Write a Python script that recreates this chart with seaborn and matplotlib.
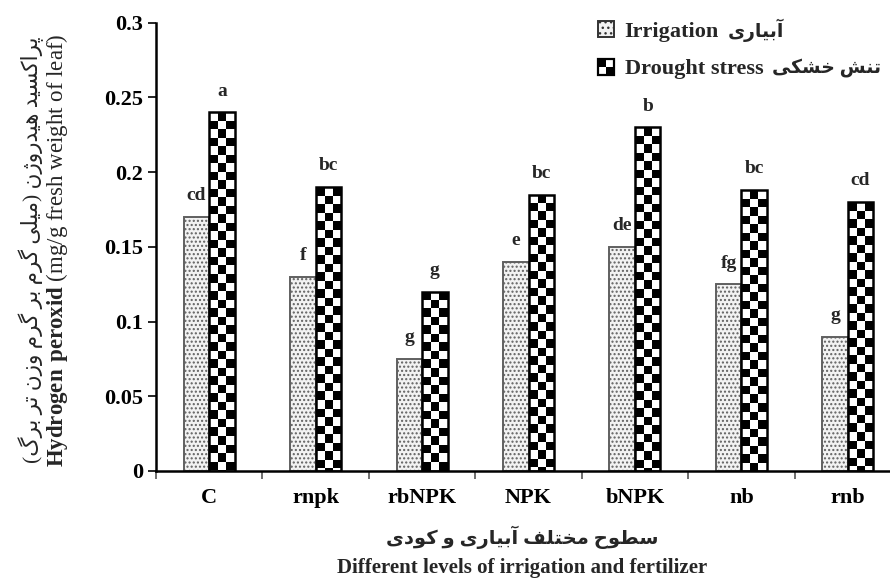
import numpy as np
import pandas as pd
import matplotlib
matplotlib.use("Agg")
import matplotlib.pyplot as plt
import seaborn as sns
from matplotlib.patches import Patch, Rectangle
from matplotlib.legend_handler import HandlerBase
from matplotlib.colors import ListedColormap

# ---- data -------------------------------------------------------------
categories = ["C", "rnpk", "rbNPK", "NPK", "bNPK", "nb", "rnb"]
irrigation = [0.17, 0.13, 0.075, 0.14, 0.15, 0.125, 0.09]
drought = [0.24, 0.19, 0.12, 0.185, 0.23, 0.188, 0.18]
irrigation_letters = ["cd", "f", "g", "e", "de", "fg", "g"]
drought_letters = ["a", "bc", "g", "bc", "b", "bc", "cd"]
ytick_values = [0, 0.05, 0.1, 0.15, 0.2, 0.25, 0.3]
ytick_labels = ["0", "0.05", "0.1", "0.15", "0.2", "0.25", "0.3"]
series_names = ["Irrigation", "Drought stress"]
series_names_fa = ["آبیاری", "تنش خشکی"]

ylabel_fa = "پراکسید هیدروژن (میلی گرم بر گرم وزن تر برگ)"
ylabel_en = r"$\mathbf{Hydrogen\ peroxid}$ (mg/g fresh weight of leaf)"
xlabel_fa = "سطوح مختلف آبیاری و کودی"
xlabel_en = "Different levels of irrigation and fertilizer"

# ---- minimal Persian shaping (matplotlib has no complex text layout) ----
_FORMS = {
    "ا": (0xFE8D, 0xFE8E, None, None), "آ": (0xFE81, 0xFE82, None, None),
    "ب": (0xFE8F, 0xFE90, 0xFE91, 0xFE92), "پ": (0xFB56, 0xFB57, 0xFB58, 0xFB59),
    "ت": (0xFE95, 0xFE96, 0xFE97, 0xFE98), "ح": (0xFEA1, 0xFEA2, 0xFEA3, 0xFEA4),
    "خ": (0xFEA5, 0xFEA6, 0xFEA7, 0xFEA8), "د": (0xFEA9, 0xFEAA, None, None),
    "ر": (0xFEAD, 0xFEAE, None, None), "ز": (0xFEAF, 0xFEB0, None, None),
    "ژ": (0xFB8A, 0xFB8B, None, None), "س": (0xFEB1, 0xFEB2, 0xFEB3, 0xFEB4),
    "ش": (0xFEB5, 0xFEB6, 0xFEB7, 0xFEB8), "ط": (0xFEC1, 0xFEC2, 0xFEC3, 0xFEC4),
    "ف": (0xFED1, 0xFED2, 0xFED3, 0xFED4), "ک": (0xFB8E, 0xFB8F, 0xFB90, 0xFB91),
    "گ": (0xFB92, 0xFB93, 0xFB94, 0xFB95), "ل": (0xFEDD, 0xFEDE, 0xFEDF, 0xFEE0),
    "م": (0xFEE1, 0xFEE2, 0xFEE3, 0xFEE4), "ن": (0xFEE5, 0xFEE6, 0xFEE7, 0xFEE8),
    "و": (0xFEED, 0xFEEE, None, None), "ه": (0xFEE9, 0xFEEA, 0xFEEB, 0xFEEC),
    "ی": (0xFBFC, 0xFBFD, 0xFBFE, 0xFBFF),
}
_MIRROR = {"(": ")", ")": "("}


def fa(text):
    text = text.replace("ك", "ک").replace("ي", "ی")
    out = []
    for i, ch in enumerate(text):
        if ch not in _FORMS:
            out.append(_MIRROR.get(ch, ch))
            continue
        iso, fin, ini, med = _FORMS[ch]
        prev = text[i - 1] if i > 0 else ""
        nxt = text[i + 1] if i + 1 < len(text) else ""
        join_prev = prev in _FORMS and _FORMS[prev][2] is not None
        join_next = nxt in _FORMS and ini is not None
        if join_prev and join_next:
            code = med
        elif join_prev:
            code = fin
        elif join_next:
            code = ini
        else:
            code = iso
        out.append(chr(code))
    return "".join(reversed(out))


# ---- style ------------------------------------------------------------
sns.set_theme(style="white")
plt.rcParams["font.family"] = ["Liberation Serif", "DejaVu Sans"]
plt.rcParams["mathtext.fontset"] = "custom"
plt.rcParams["mathtext.rm"] = "Liberation Serif"
plt.rcParams["mathtext.bf"] = "Liberation Serif:bold"
plt.rcParams["hatch.linewidth"] = 1.0

MIXED = ["Liberation Serif", "DejaVu Sans"]

fig = plt.figure(figsize=(8.9, 5.83), dpi=100)
ax = fig.add_axes([156 / 890, 1 - 471 / 583, 745 / 890, (471 - 22.7) / 583])

df = pd.DataFrame({
    "treatment": categories * 2,
    "value": irrigation + drought,
    "series": [series_names[0]] * len(categories) + [series_names[1]] * len(categories),
})

sns.barplot(data=df, x="treatment", y="value", hue="series", order=categories,
            hue_order=series_names, width=0.48, palette=["#f2f2f2", "white"],
            errorbar=None, legend=False, ax=ax, saturation=1)

irr_bars, dr_bars = ax.containers[0], ax.containers[1]

for bar in irr_bars:
    bar.set_facecolor("#f2f2f2")
    bar.set_edgecolor("#606060")
    bar.set_hatch("....")
    bar.set_linewidth(1.4)

checker = ListedColormap(["white", "black"])
sq = 0.0057
for bar in dr_bars:
    x0, w, h = bar.get_x(), bar.get_width(), bar.get_height()
    nrows = int(np.ceil(h / sq))
    grid = np.add.outer(np.arange(nrows), np.arange(3)) % 2
    img = ax.imshow(grid, cmap=checker, origin="lower", interpolation="nearest",
                    extent=[x0, x0 + w, h - nrows * sq, h], aspect="auto", zorder=0.9)
    img.set_clip_path(bar)
    bar.set_facecolor("none")
    bar.set_edgecolor("black")
    bar.set_linewidth(1.8)

# significance letters above bars
for bars, letters in ((irr_bars, irrigation_letters), (dr_bars, drought_letters)):
    for bar, letter in zip(bars, letters):
        ax.annotate(letter, (bar.get_x() + bar.get_width() / 2, bar.get_height()),
                    xytext=(0, 12), textcoords="offset points", ha="center",
                    va="baseline", fontsize=14, fontweight="bold",
                    family="Liberation Serif")

ax.set_xlim(-0.5, len(categories) - 0.5)
ax.set_ylim(0, 0.3)
ax.set_yticks(ytick_values)
ax.set_yticklabels(ytick_labels)
ax.set_xticks(range(len(categories)))
ax.set_xticklabels(categories)
ax.set_xticks(np.arange(-0.5, len(categories), 1.0), minor=True)
ax.set_xlabel("")
ax.set_ylabel("")

for lab in ax.get_yticklabels() + ax.get_xticklabels():
    lab.set_fontweight("bold")
    lab.set_family("Liberation Serif")
ax.tick_params(axis="y", direction="out", length=6, width=1.2, pad=3,
               labelsize=16, left=True, colors="black")
ax.tick_params(axis="x", which="major", length=0, pad=12, labelsize=16,
               bottom=True, colors="black")
ax.tick_params(axis="x", which="minor", direction="out", length=6, width=1.2,
               bottom=True, color="#555555")

for side in ("top", "right"):
    ax.spines[side].set_visible(False)
for side in ("left", "bottom"):
    ax.spines[side].set_color("black")
    ax.spines[side].set_linewidth(1.8)

# axis titles (Persian + English)
ymid = 1 - 250 / 583
fig.text(31 / 890, ymid, fa(ylabel_fa), rotation=90, ha="center", va="center",
         fontsize=15.5, family=MIXED)
fig.text(57 / 890, ymid, ylabel_en, rotation=90, ha="center", va="center",
         fontsize=16.5, family="Liberation Serif")
fig.text(522 / 890, 1 - 537 / 583, fa(xlabel_fa), ha="center", va="center",
         fontsize=14, fontweight="bold", family=MIXED)
fig.text(522 / 890, 1 - 568 / 583, xlabel_en, ha="center", va="center",
         fontsize=15, fontweight="bold", family="Liberation Serif")


# legend with custom swatches
class DotHandler(HandlerBase):
    def create_artists(self, legend, orig_handle, xdescent, ydescent, width,
                       height, fontsize, trans):
        s = min(width, height)
        x0 = -xdescent + (width - s) / 2
        y0 = -ydescent + (height - s) / 2
        return [Rectangle((x0, y0), s, s, facecolor="#f2f2f2", edgecolor="#333333",
                          hatch="...", lw=1.4, transform=trans)]


class CheckerHandler(HandlerBase):
    def create_artists(self, legend, orig_handle, xdescent, ydescent, width,
                       height, fontsize, trans):
        s = min(width, height)
        x0 = -xdescent + (width - s) / 2
        y0 = -ydescent + (height - s) / 2
        half = s / 2
        return [
            Rectangle((x0, y0), s, s, facecolor="white", edgecolor="none", transform=trans),
            Rectangle((x0, y0 + half), half, half, facecolor="black", edgecolor="none", transform=trans),
            Rectangle((x0 + half, y0), half, half, facecolor="black", edgecolor="none", transform=trans),
            Rectangle((x0, y0), s, s, facecolor="none", edgecolor="black", lw=1.6, transform=trans),
        ]


h_irr = Patch(label=series_names[0])
h_dr = Patch(label=series_names[1])
leg = ax.legend([h_irr, h_dr], series_names,
                handler_map={h_irr: DotHandler(), h_dr: CheckerHandler()},
                loc="upper left", bbox_to_anchor=(598 / 890, 1 - 21 / 583),
                bbox_transform=fig.transFigure, markerfirst=True, frameon=False,
                handlelength=0.75, handleheight=0.75, handletextpad=0.45,
                labelspacing=0.75, borderpad=0, borderaxespad=0,
                prop={"family": "Liberation Serif", "weight": "bold", "size": 16})

# Persian series names follow each English legend entry
fig.canvas.draw()
renderer = fig.canvas.get_renderer()
inv = fig.transFigure.inverted()
for txt, name_fa in zip(leg.get_texts(), series_names_fa):
    bb = txt.get_window_extent(renderer)
    (fx, fy0), (_, fy1) = inv.transform([(bb.x1 + 9, bb.y0), (bb.x1, bb.y1)])
    fig.text(fx, (fy0 + fy1) / 2 + 2 / 583, fa(name_fa), ha="left", va="center",
             fontsize=13.5, fontweight="bold", family=MIXED)

fig.savefig("out.png", dpi=100)
